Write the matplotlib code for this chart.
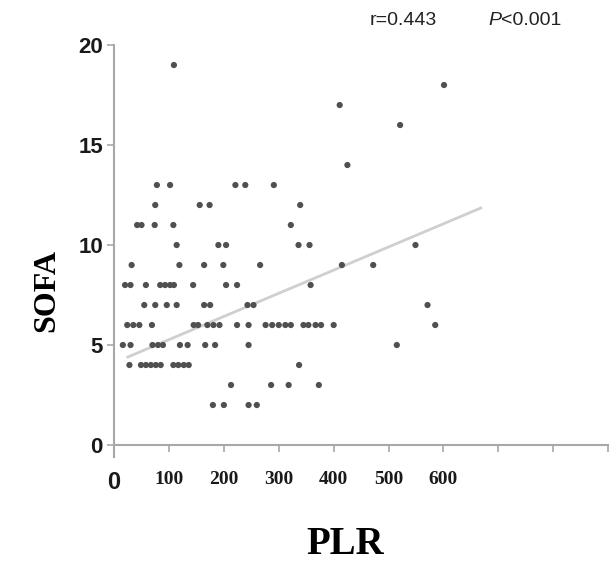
import numpy as np
import matplotlib.pyplot as plt

# Data, grouped by SOFA score
plr = np.array([
    180, 200, 245, 260,                                        # 2
    213, 286, 318, 373,                                        # 3
    28, 49, 58, 67, 76, 85, 108, 117, 127, 136, 337,           # 4
    16, 30, 70, 80, 89, 120, 134, 166, 184, 245, 515,          # 5
    24, 35, 46, 69, 145, 153, 170, 181, 192, 224, 245, 276,
    288, 300, 312, 322, 345, 354, 367, 377, 400, 585,          # 6
    55, 75, 96, 114, 164, 175, 243, 254, 571,                  # 7
    20, 30, 58, 84, 93, 102, 109, 144, 204, 224, 358,          # 8
    32, 119, 164, 199, 266, 415, 472,                          # 9
    114, 190, 204, 336, 356, 549,                              # 10
    42, 50, 74, 108, 322,                                      # 11
    75, 156, 174, 339,                                         # 12
    78, 102, 221, 239, 291,                                    # 13
    425, 521, 411, 601, 109,                                   # 14, 16, 17, 18, 19
])
sofa = np.array([2] * 4 + [3] * 4 + [4] * 11 + [5] * 11 + [6] * 22 + [7] * 9
                + [8] * 11 + [9] * 7 + [10] * 6 + [11] * 5 + [12] * 4
                + [13] * 5 + [14, 16, 17, 18, 19])

# Regression line ends as drawn in the figure
fit_x = np.array([25, 668])
fit_y = np.array([4.4, 11.85])

x_ticks = [0, 100, 200, 300, 400, 500, 600, 700, 800, 900]
x_labels = ['0', '100', '200', '300', '400', '500', '600', '', '', '']
y_ticks = [0, 5, 10, 15, 20]

fig = plt.figure(figsize=(6.10, 5.81), dpi=100)
ax = fig.add_axes([0.187, 0.2134, 0.81, 0.7091])

ax.plot(fit_x, fit_y, color='#cfcfcf', lw=2, zorder=1)
ax.scatter(plr, sofa, s=20, color='#505050', edgecolors='none', zorder=2)

ax.set_xlim(0, 900)
ax.set_ylim(-0.6, 20)
ax.spines['top'].set_visible(False)
ax.spines['right'].set_visible(False)
ax.spines['bottom'].set_position(('data', 0))
for sp in ('left', 'bottom'):
    ax.spines[sp].set_color('#a8a8a8')
    ax.spines[sp].set_linewidth(1.5)

ax.set_xticks(x_ticks)
ax.set_xticklabels(x_labels, fontfamily='Liberation Serif',
                   fontweight='bold', fontsize=14)
ax.get_xticklabels()[0].set_fontfamily('Liberation Sans')
ax.get_xticklabels()[0].set_fontsize(17)
ax.set_yticks(y_ticks)
ax.set_yticklabels([str(v) for v in y_ticks], fontfamily='Liberation Sans',
                   fontweight='bold', fontsize=16)
ax.tick_params(axis='both', colors='#a8a8a8', length=5, width=1.2,
               labelcolor='#1a1a1a')
ax.tick_params(axis='x', pad=14)
ax.tick_params(axis='y', pad=3)

fig.text(0.077, 0.50, 'SOFA', rotation=90, ha='center', va='center',
         fontfamily='Liberation Serif', fontweight='bold', fontsize=23)
fig.text(0.566, 0.062, 'PLR', ha='center', va='center',
         fontfamily='Liberation Serif', fontweight='bold', fontsize=28)

fig.text(0.606, 0.965, 'r=0.443', ha='left', va='center',
         fontfamily='Liberation Sans', fontsize=14, color='#222222')
fig.text(0.800, 0.965, 'P', ha='left', va='center', style='italic',
         fontfamily='Liberation Sans', fontsize=14, color='#222222')
fig.text(0.822, 0.965, '<0.001', ha='left', va='center',
         fontfamily='Liberation Sans', fontsize=14, color='#222222')

fig.savefig('out.png', dpi=100)
